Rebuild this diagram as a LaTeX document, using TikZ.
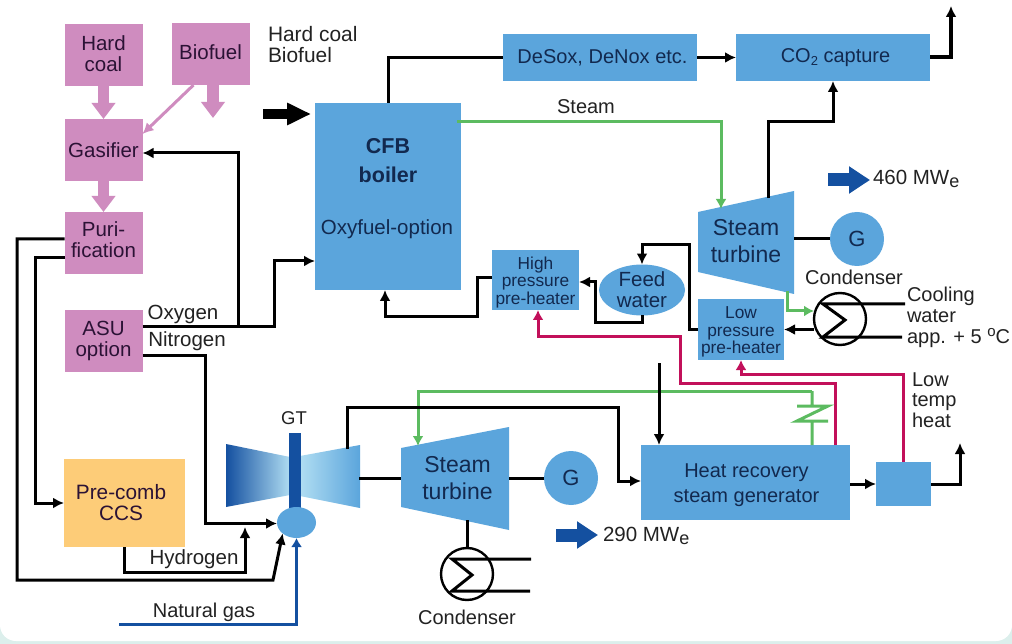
\documentclass[tikz,border=0pt]{standalone}
\usepackage{fontspec}
\setmainfont{Liberation Sans}
\usetikzlibrary{shapes,arrows,arrows.meta,positioning}
\definecolor{boxblue}{HTML}{5BA5DC}
\definecolor{boxpink}{HTML}{CF8CBF}
\definecolor{boxorange}{HTML}{FDCC78}
\definecolor{steamgreen}{HTML}{5CBB60}
\definecolor{heatred}{HTML}{C2105A}
\definecolor{deepblue}{HTML}{1450A0}
\definecolor{paleblue}{HTML}{B0DDF2}
\definecolor{ink}{HTML}{222222}
\definecolor{navyink}{HTML}{12294F}
\definecolor{plumink}{HTML}{2B1235}
\definecolor{edgeteal}{HTML}{DCEFEC}

\begin{document}
\begin{tikzpicture}[x=1pt,y=-1pt,
  every node/.style={inner sep=0pt,outer sep=0pt,text=ink,align=center,font=\fontsize{20.5}{21}\selectfont},
  block/.style={rectangle,fill=boxblue,text=navyink},
  small/.style={font=\fontsize{20}{21}\selectfont},
  pinkblock/.style={rectangle,fill=boxpink,text=plumink,minimum width=78pt,minimum height=62pt},
  heater/.style={block,font=\fontsize{17.3}{17.5}\selectfont},
  round/.style={circle,fill=boxblue,text=navyink,minimum size=54pt,font=\fontsize{22}{22}\selectfont},
  condenser/.style={circle,draw=black,line width=2.4pt,minimum size=52pt},
  flow/.style={draw=black,line width=3pt,-{Latex[length=11pt,width=11pt]}},
  plain/.style={draw=black,line width=3pt},
  steamflow/.style={draw=steamgreen,line width=3pt,-{Latex[length=10pt,width=11pt]}},
  heatflow/.style={draw=heatred,line width=3pt,-{Latex[length=10pt,width=11pt]}},
  fatpink/.style={draw=boxpink,line width=11.5pt,-{Triangle[length=16pt,width=23pt]}},
  fatblue/.style={draw=deepblue,line width=13pt,-{Triangle[length=21pt,width=26pt]}},
  fatblack/.style={draw=black,line width=10pt,-{Triangle[length=24pt,width=21pt]}}]

        \useasboundingbox (0,0) rectangle (1012,644);
        \fill[edgeteal] (0,0) rectangle (1012,644);
        \fill[white,rounded corners=16pt] (0,-40) rectangle (1012,641);

        \node (Coal) [pinkblock] at (103.5,55) {Hard\\coal\rule[-2pt]{0pt}{0pt}};
        \node (Bio) [pinkblock] at (210.5,54) {Biofuel\rule[-3pt]{0pt}{0pt}};
        \node (Gas) [pinkblock,below = 33pt of Coal] {Gasifier};
        \node (Puri) [pinkblock,below = 31pt of Gas] {Puri-\\fication\rule[-6pt]{0pt}{0pt}};
        \node (ASU) [pinkblock,below = 36pt of Puri] {ASU\\option};
        \node (Pre) [rectangle,fill=boxorange,text=plumink,minimum width=121pt,minimum height=88pt,font=\fontsize{20.8}{21}\selectfont] at (124.5,503) {Pre-comb\hspace*{7pt}\\CCS\hspace*{7pt}};

        \node (CFB) [block,minimum width=146pt,minimum height=187pt] at (388,196.5) {};
        \node (CFBname) [text=navyink,font=\fontsize{21.5}{29}\selectfont\bfseries] at (388,161) {CFB\\boiler};
        \node (Oxy) [text=navyink] at (387,229) {Oxyfuel-option};
        \node (DeSox) [block,small,minimum width=194pt,minimum height=47pt] at (600,57.5) {\hspace*{5pt}DeSox, DeNox etc.};
        \node (CO2) [block,small,minimum width=194pt,minimum height=47pt,right = 39pt of DeSox] {\hspace*{5pt}CO\raisebox{-3pt}{\fontsize{13}{13}\selectfont 2} capture};
        \node (High) [heater,minimum width=87pt,minimum height=60pt] at (535.5,280) {\rule{0pt}{17pt}High\\pressure\\pre-heater};
        \node (Low) [heater,minimum width=86pt,minimum height=61pt] at (741,329.5) {\rule{0pt}{17pt}Low\\pressure\\pre-heater};
        \node (Feed) [ellipse,fill=boxblue,text=navyink,minimum width=86pt,minimum height=46pt] at (642,290) {Feed\\water};
        \node (HRSG) [block,minimum width=209pt,minimum height=75pt,font=\fontsize{20}{25}\selectfont] at (745.5,482.5) {\rule{0pt}{19pt}\hspace*{2pt}Heat recovery\\\hspace*{2pt}steam generator};
        \node (Heat) [block,minimum width=55pt,minimum height=44pt] at (903.5,484) {};

        \fill[boxblue] (698,212) -- (794,191) -- (794,294) -- (698,272) -- cycle;
        \node (ST1) [text=navyink,font=\fontsize{23}{27}\selectfont,minimum width=96pt,minimum height=103pt] at (746,241) {Steam\\turbine};
        \fill[boxblue] (401,448) -- (509,427) -- (509,530) -- (401,507) -- cycle;
        \node (ST2) [text=navyink,font=\fontsize{23}{27}\selectfont,minimum width=108pt,minimum height=104pt] at (455,478) {\hspace*{5pt}Steam\\\hspace*{5pt}turbine};
        \node (G1) [round] at (857,239) {G};
        \node (G2) [round] at (571,478) {G};
        \node (Cond1) [condenser] at (840,319) {};
        \node (Cond2) [condenser] at (467,574) {};

        \shade[left color=deepblue,right color=paleblue] (226,444) -- (290,457) -- (290,495) -- (226,507) -- cycle;
        \shade[left color=paleblue,right color=boxblue] (300,456) -- (360,445) -- (360,508) -- (300,496) -- cycle;
        \fill[deepblue] (289,433) rectangle (301,510);
        \node (Comb) [ellipse,fill=boxblue,minimum width=39pt,minimum height=31pt] at (296.5,522.5) {};

        \node (FuelText) [anchor=north west,align=left,font=\fontsize{20.9}{21}\selectfont] at (268,26) {Hard coal\\Biofuel};
        \node (Oxygen) at (183,314) {Oxygen};
        \node (Nitrogen) at (187,341) {Nitrogen};
        \node (Hydrogen) at (194,559) {Hydrogen};
        \node (Natural) [small] at (204,612) {Natural gas};
        \node (GT) [font=\fontsize{18.5}{18.5}\selectfont] at (294,418) {GT};
        \node (Steam) [small] at (586,107) {Steam};
        \node (CondText1) [small] at (854,277) {Condenser};
        \node (CondText2) [small] at (467,617) {Condenser};
        \node (Cooling) [small,anchor=west,align=left] at (907,317) {Cooling\\water\\app. + 5 \raisebox{7pt}{\fontsize{15}{15}\selectfont o}C};
        \node (LowTemp) [anchor=west,align=left,font=\fontsize{20}{20.5}\selectfont] at (912,400) {Low\\temp\\heat};
        \node (MW460) [anchor=west] at (873,179) {460 MW\raisebox{-3pt}{\fontsize{18}{18}\selectfont e}};
        \node (MW290) [anchor=west] at (603,536) {290 MW\raisebox{-3pt}{\fontsize{18}{18}\selectfont e}};

        \coordinate (Fuel) at (263,114);
        \coordinate (BioEnd) at (213,118);
        \coordinate (Tee) at (238,327);
        \coordinate (Join) at (245,527);
        \coordinate (NG) at (119,624);
        \coordinate (Out1) at (951,6);
        \coordinate (Out2) at (960,443);
        \coordinate (ST1in) at (721,209);
        \coordinate (ST1up) at (768,198);
        \coordinate (ST1down) at (787,291);
        \coordinate (ST2in) at (418,446);
        \coordinate (ST2down) at (467,520);
        \coordinate (GTup) at (347,449);
        \coordinate (GTout) at (359,478);
        \coordinate (Drop) at (659,363);
        \coordinate (CW1) at (905,304);
        \coordinate (CW2) at (902,337);
        \coordinate (Ret1) at (531,559);
        \coordinate (Ret2) at (530,591);
        \coordinate (P460) at (828,180);
        \coordinate (P290) at (556,535);

        \draw[fatpink] (Coal) -- (Gas);
        \draw[fatpink] (Gas) -- (Puri);
        \draw[fatpink] (Bio.south -| BioEnd) -- (BioEnd);
        \draw[draw=boxpink,line width=3pt,-{Latex[length=11pt,width=11pt]}] ([xshift=-17pt]Bio.south) -- ([yshift=16pt]Gas.east);
        \draw[fatblack] (Fuel) -- ++(48,0);
        \draw[fatblue] (P460) -- ++(42,0);
        \draw[fatblue] (P290) -- ++(42,0);

        \draw[flow] ([yshift=4pt]Puri.west) -| (17,580) -- (273,580) -- (Comb.south west);
        \draw[flow] ([yshift=-15pt]Puri.west) -- ++(-29,0) |- (Pre.west);
        \draw[flow] ([yshift=14pt]ASU.east) -- ++(132,0) |- ([yshift=-64.5pt]CFB.west);
        \draw[flow] (Tee) |- ([yshift=-3pt]Gas.east);
        \draw[flow] ([yshift=-14pt]ASU.east) -- ++(63,0) |- ([yshift=-1pt]Comb.west);
        \draw[flow] (Pre.south) |- (Join |- 0,572) -- (Join);
        \draw[draw=deepblue,line width=3pt,-{Latex[length=9pt,width=11pt]}] (NG) -| (Comb.south);

        \draw[plain] (CFB.north) |- (DeSox.west);
        \draw[flow] (DeSox) -- (CO2);
        \draw[flow,line width=4pt] (CO2.east) -| (Out1);
        \draw[steamflow] ([yshift=74.5pt,xshift=-4pt]CFB.east) -| (ST1in);
        \draw[flow] (ST1up) |- ([yshift=-41pt]CO2.south) -- (CO2.south);
        \draw[plain] (ST1.east |- G1) -- (G1);
        \draw[steamflow] (ST1down) |- ([yshift=8pt]Cond1.west);
        \draw[flow] (Cond1.west |- Low.east) -- (Low.east);
        \draw[flow] (Low.west) -| (689,245) -| (Feed.north);
        \draw[flow] (Feed.south) |- (595,323) |- ([yshift=-2pt]High.east);
        \draw[flow] ([yshift=2pt]High.west) -| (477,317) -| ([xshift=-3pt]CFB.south);

        \draw[heatflow] ([xshift=89.5pt]HRSG.north) |- (680,383) |- (538,336) -- ([xshift=2.5pt]High.south);
        \draw[heatflow] (Heat.north) |- (741,374) -- (Low.south);
        \draw[steamflow,-] ([xshift=66.5pt]HRSG.north) -- (812,421) (828,421) -- (797,421) -- (828,406) -- (797,406) (812,406) -- (812,391);
        \draw[steamflow] (812,391) -| (ST2in);
        \draw[flow] (Drop) -- (Drop |- HRSG.north);

        \draw[plain] (GTout) -- (ST2.west);
        \draw[flow] (GTup) |- (618,407) |- ([yshift=1.5pt]HRSG.west);
        \draw[plain] (ST2.east) -- (G2);
        \draw[plain] (ST2down) -- (Cond2.north);
        \draw[flow] (HRSG.east |- Heat.west) -- (Heat.west);
        \draw[flow] (Heat.east) -| (Out2);

        \draw[plain] (CW1) -- ++(-82,0) -- ++(22,16) -- ++(-22,17) -- (CW2);
        \draw[plain] (Ret1) -- ++(-79,0) -- ++(20,16) -- ++(-20,16) -- (Ret2);
      \end{tikzpicture}
\end{document}
